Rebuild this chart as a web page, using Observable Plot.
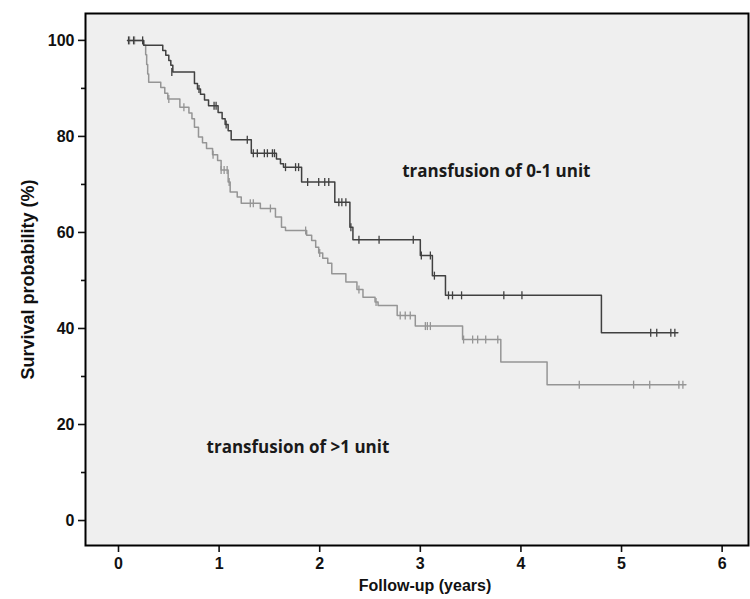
<!DOCTYPE html>
<html>
<head>
<meta charset="utf-8">
<script src="https://cdn.jsdelivr.net/npm/d3@7"></script>
<script src="https://cdn.jsdelivr.net/npm/@observablehq/plot@0.6"></script>
<style>
  html, body { margin: 0; padding: 0; background: #fff; }
</style>
</head>
<body>
<div id="chart"></div>
<script>
// ---- Data (Kaplan–Meier steps) ----
// Group "transfusion of 0-1 unit" (dark curve)
const upperTime = [0.09, 0.25, 0.44, 0.47, 0.50, 0.52, 0.54, 0.755, 0.785, 0.815, 0.855, 0.895, 0.99, 1.03, 1.06, 1.09, 1.12, 1.32, 1.57, 1.61, 1.64, 1.82, 2.15, 2.30, 2.33, 3.00, 3.12, 3.25, 4.80, 5.56];
const upperSurv = [100, 99, 97.9, 96.9, 95.8, 94.8, 93.4, 91.0, 89.9, 88.8, 87.6, 86.4, 85.0, 83.7, 82.5, 81.2, 79.3, 76.5, 75.3, 74.3, 73.6, 70.5, 66.3, 61.1, 58.5, 55.2, 51.0, 46.9, 39.1, 39.1];
const upperCensTime = [0.10, 0.15, 0.24, 0.53, 0.80, 0.95, 0.97, 1.07, 1.28, 1.34, 1.38, 1.45, 1.48, 1.53, 1.55, 1.66, 1.76, 1.79, 1.88, 1.99, 2.05, 2.09, 2.19, 2.22, 2.26, 2.31, 2.39, 2.59, 2.93, 3.01, 3.10, 3.14, 3.28, 3.32, 3.41, 3.83, 4.01, 5.29, 5.35, 5.49, 5.53];
const upperCensSurv = [100, 100, 100, 93.4, 89.9, 86.4, 86.4, 82.5, 79.3, 76.5, 76.5, 76.5, 76.5, 76.5, 76.5, 73.6, 73.6, 73.6, 70.5, 70.5, 70.5, 70.5, 66.3, 66.3, 66.3, 61.1, 58.5, 58.5, 58.5, 55.2, 55.2, 51.0, 46.9, 46.9, 46.9, 46.9, 46.9, 39.1, 39.1, 39.1, 39.1];

// Group "transfusion of >1 unit" (light curve)
const lowerTime = [0.09, 0.25, 0.27, 0.28, 0.29, 0.30, 0.42, 0.46, 0.49, 0.61, 0.70, 0.73, 0.755, 0.795, 0.835, 0.875, 0.935, 0.985, 1.02, 1.09, 1.11, 1.18, 1.22, 1.41, 1.56, 1.62, 1.66, 1.87, 1.92, 1.96, 1.99, 2.03, 2.08, 2.12, 2.26, 2.37, 2.43, 2.55, 2.58, 2.77, 2.95, 3.42, 3.80, 4.26, 5.64];
const lowerSurv = [100, 99, 97.0, 95.0, 93.0, 91.3, 90.2, 89.0, 87.8, 86.1, 84.9, 83.7, 81.9, 79.9, 78.7, 77.5, 76.2, 75.0, 73.0, 70.5, 68.4, 67.4, 66.1, 65.0, 63.2, 61.1, 60.4, 59.4, 58.3, 56.9, 55.7, 54.6, 53.6, 51.4, 49.7, 48.1, 46.5, 45.5, 44.8, 42.7, 40.5, 37.7, 33.0, 28.3, 28.3];
const lowerCensTime = [0.11, 0.16, 0.50, 0.65, 0.94, 1.02, 1.05, 1.08, 1.10, 1.31, 1.34, 1.51, 1.86, 2.00, 2.39, 2.56, 2.80, 2.85, 2.90, 3.05, 3.07, 3.10, 3.43, 3.52, 3.57, 3.65, 3.77, 4.58, 5.12, 5.28, 5.57, 5.61];
const lowerCensSurv = [100, 100, 87.8, 86.1, 76.2, 73.0, 73.0, 73.0, 70.5, 66.1, 66.1, 65.0, 60.4, 55.7, 48.1, 45.5, 42.7, 42.7, 42.7, 40.5, 40.5, 40.5, 37.7, 37.7, 37.7, 37.7, 37.7, 28.3, 28.3, 28.3, 28.3, 28.3];

const groupLabels = ["transfusion of 0-1 unit", "transfusion of >1 unit"];
const labelTime = [2.82, 0.875];
const labelSurv = [72.7, 15.2];

const xTicks = [0, 1, 2, 3, 4, 5, 6];
const yTicks = [0, 20, 40, 60, 80, 100];
const yMinorTicks = [10, 30, 50, 70, 90];
const xTitle = "Follow-up (years)";
const yTitle = "Survival probability (%)";

// ---- Tables ----
const upper = upperTime.map((t, i) => ({t, s: upperSurv[i]}));
const lower = lowerTime.map((t, i) => ({t, s: lowerSurv[i]}));
const upperCens = upperCensTime.map((t, i) => ({t, s: upperCensSurv[i]}));
const lowerCens = lowerCensTime.map((t, i) => ({t, s: lowerCensSurv[i]}));
const labels = groupLabels.map((text, i) => ({text, t: labelTime[i], s: labelSurv[i]}));

const darkColor = "#404040";
const lightColor = "#959595";
const sans = "'Liberation Sans', Arial, sans-serif";

// vertical tick symbol for censoring marks
const vtick = {
  draw(ctx, size) {
    const h = Math.sqrt(size / Math.PI);
    ctx.moveTo(0, -h);
    ctx.lineTo(0, h);
  }
};

const chart = Plot.plot({
  width: 750,
  height: 599,
  marginLeft: 85,
  marginRight: 2,
  marginTop: 13,
  marginBottom: 54,
  style: {fontFamily: sans, fontSize: "16px", fontWeight: "bold", color: "#111", background: "#fff"},
  x: {domain: [-0.328, 6.262]},
  y: {domain: [-5.2, 105.6]},
  marks: [
    Plot.frame({fill: "#efefef", stroke: null}),
    Plot.line(lower, {x: "t", y: "s", curve: "step-after", stroke: lightColor, strokeWidth: 1.5}),
    Plot.dot(lowerCens, {x: "t", y: "s", symbol: vtick, r: 4, stroke: lightColor, strokeWidth: 1.3, fill: "none"}),
    Plot.line(upper, {x: "t", y: "s", curve: "step-after", stroke: darkColor, strokeWidth: 1.5}),
    Plot.dot(upperCens, {x: "t", y: "s", symbol: vtick, r: 4, stroke: darkColor, strokeWidth: 1.3, fill: "none"}),
    Plot.text(labels, {x: "t", y: "s", text: "text", textAnchor: "start", fontFamily: "'Open Sans', sans-serif", fontSize: 17, fontWeight: "bold", fill: "#1a1a1a"}),
    Plot.axisY(yTicks, {tickSize: 7, tickPadding: 4, strokeWidth: 1.6, label: null, fontSize: 16}),
    Plot.axisY(yMinorTicks, {tickSize: 4, strokeWidth: 1.6, tickFormat: () => "", label: null}),
    Plot.axisX(xTicks, {tickSize: 7, tickPadding: 5, strokeWidth: 1.6, label: null, fontSize: 16}),
    Plot.text([yTitle], {frameAnchor: "left", textAnchor: "middle", lineAnchor: "middle", rotate: -90, dx: -57, fontSize: 18, fontWeight: "bold", fill: "#111"}),
    Plot.text([xTitle], {frameAnchor: "bottom", textAnchor: "middle", lineAnchor: "middle", dy: 40, dx: 8, fontSize: 16, fontWeight: "bold", fill: "#111"}),
    Plot.frame({stroke: "#000", strokeWidth: 2})
  ]
});

document.getElementById("chart").appendChild(chart);
</script>
</body>
</html>
